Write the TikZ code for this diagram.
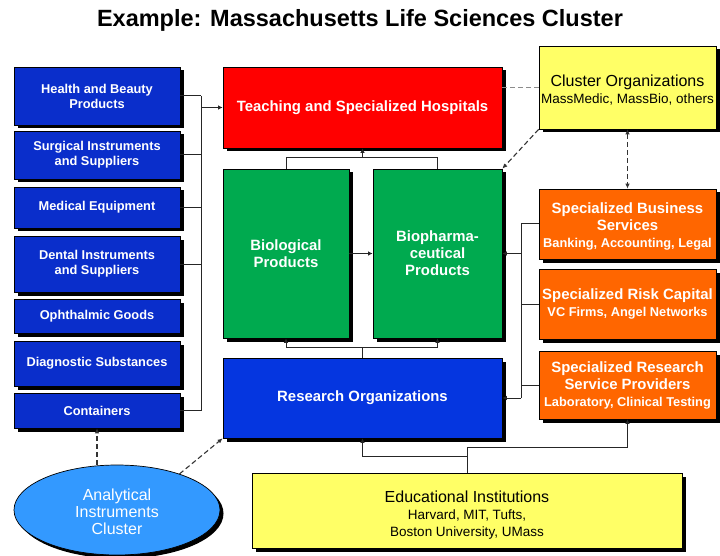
\documentclass[tikz,border=0pt]{standalone}
\usepackage{fontspec}
\setmainfont{Liberation Sans}
\usetikzlibrary{shadows,arrows.meta,shapes.geometric}
\definecolor{lblue}{HTML}{0A2ECB}
\definecolor{rblue}{HTML}{0536E0}
\definecolor{hred}{HTML}{FF0000}
\definecolor{pgreen}{HTML}{00AA4F}
\definecolor{sorange}{HTML}{FF6600}
\definecolor{cyellow}{HTML}{FFFF66}
\definecolor{eblue}{HTML}{3399FF}
\tikzset{
  box/.style={draw=black, line width=0.7pt, inner sep=2pt, align=center,
    drop shadow={shadow xshift=3.5pt, shadow yshift=-3.5pt, fill=black, opacity=1}},
  leftbox/.style={box, fill=lblue, text=white, font=\fontsize{12.8}{15}\selectfont\bfseries, minimum width=166pt},
  bigtxt/.style={font=\fontsize{14.9}{17}\selectfont\bfseries},
  orbox/.style={box, fill=sorange, text=white, font=\fontsize{12.8}{17}\selectfont\bfseries, minimum width=177pt},
  ylbox/.style={box, fill=cyellow, font=\fontsize{13.5}{17}\selectfont},
  conn/.style={draw=black!85, line width=1pt},
  tip/.style={-{Latex[length=4.5pt,width=4.5pt]}},
  dsh/.style={draw=black!80, line width=1.1pt, dash pattern=on 5pt off 3pt},
}
\newcommand{\bgfs}{\fontsize{14.9}{17}\selectfont}
\newcommand{\smfs}{\fontsize{12.8}{17}\selectfont}
\newcommand{\ylfs}{\fontsize{16}{17}\selectfont}
\newcommand{\ysfs}{\fontsize{13.5}{17}\selectfont}
\begin{document}
\begin{tikzpicture}[x=1pt,y=-1pt]
\useasboundingbox (0,0) rectangle (720,556);
\node[font=\fontsize{23.5}{26}\selectfont\bfseries] (title) at (360,20) {Example: Massachusetts Life Sciences Cluster};

% left boxes
\node[leftbox, minimum height=58pt] (hb) at (97,96) {Health and Beauty\\Products};
\node[leftbox, minimum height=48pt] (si) at (97,155) {Surgical Instruments\\and Suppliers};
\node[leftbox, minimum height=41pt] (me) at (97,207.5) {Medical Equipment};
\node[leftbox, minimum height=56pt] (di) at (97,264) {Dental Instruments\\and Suppliers};
\node[leftbox, minimum height=34pt] (og) at (97,316) {Ophthalmic Goods};
\node[leftbox, minimum height=45pt] (ds) at (97,363.5) {Diagnostic Substances};
\node[leftbox, minimum height=35pt] (ct) at (97,410.5) {Containers};

% center boxes
\node[box, fill=hred, text=white, bigtxt, minimum width=279pt, minimum height=81pt] (th) at (362.5,107.5) {Teaching and Specialized Hospitals};
\node[box, fill=pgreen, text=white, bigtxt, minimum width=126pt, minimum height=169pt] (bio) at (286,253.5) {Biological\\Products};
\node[box, fill=pgreen, text=white, bigtxt, minimum width=129pt, minimum height=169pt] (bph) at (437.5,253.5) {Biopharma-\\ceutical\\Products};
\node[box, fill=rblue, text=white, bigtxt, minimum width=279pt, minimum height=80pt] (ro) at (362.5,398) {Research Organizations};

% right boxes
\node[ylbox, minimum width=177pt, minimum height=83pt] (co) at (627.5,87.5) {\ylfs\rule{0pt}{17pt}Cluster Organizations\\\ysfs MassMedic, MassBio, others};
\node[orbox, minimum height=70pt] (sbs) at (627.5,224) {\bgfs\rule{0pt}{15pt}Specialized Business\\\bgfs Services\\\smfs Banking, Accounting, Legal};
\node[orbox, minimum height=70pt] (src) at (627.5,304) {\bgfs Specialized Risk Capital\\\smfs VC Firms, Angel Networks};
\node[orbox, minimum height=68pt] (srs) at (627.5,385) {\bgfs Specialized Research\\\bgfs Service Providers\\\smfs Laboratory, Clinical Testing};

% bottom
\node[ylbox, minimum width=430pt, minimum height=75pt] (edu) at (467,510.5) {\ylfs\rule{0pt}{21pt}Educational Institutions\\\ysfs Harvard, MIT, Tufts,\\\ysfs Boston University, UMass};
\node[box, ellipse, fill=eblue, text=white, inner sep=0pt, minimum width=206pt, minimum height=90pt, font=\fontsize{16}{17}\selectfont] (aic) at (117,510) {\rule{0pt}{15pt}Analytical\\Instruments\\Cluster};

% left bus
\coordinate (lb) at (201,0);
\foreach \n in {hb,si,me,di,ct} {\draw[conn] (\n.east) -- (\n.east -| lb);}
\draw[conn] (hb.east -| lb) -- (ct.east -| lb);
\draw[conn, tip] (th.west -| lb) -- (th.west);

% hospitals to green
\coordinate (tj) at (362.5,158);
\draw[conn] (bio.north) -- (bio.north |- tj) -- (bph.north |- tj) -- (bph.north);
\draw[conn, tip] (tj) -- (th.south);
\draw[conn, tip] (bio.east) -- (bph.west);

% green to research
\coordinate (bj) at (362.5,347);
\draw[conn] (bio.south |- bj) -- (bph.south |- bj);
\draw[conn, tip] (bio.south |- bj) -- (bio.south);
\draw[conn, tip] (bph.south |- bj) -- (bph.south);
\draw[conn] (bj) -- (ro.north);

% right bus
\coordinate (rb) at (521,0);
\foreach \n in {sbs,src,srs} {\draw[conn] (\n.west) -- (\n.west -| rb);}
\draw[conn] (sbs.west -| rb) -- (ro.east -| rb);
\draw[conn, tip] (bph.east -| rb) -- (bph.east);
\draw[conn, tip] (ro.east -| rb) -- (ro.east);

% to education
\coordinate (ej) at (467,447);
\coordinate (rj) at (362.5,456);
\draw[conn, {Latex[length=4.5pt,width=4.5pt]}-] (ro.south) -- (rj) -- (rj -| edu.north);
\draw[conn, {Latex[length=4.5pt,width=4.5pt]}-] (srs.south) -- (srs.south |- ej) -- (ej) -- (edu.north);

% dashed
\draw[dsh, draw=black!45] (th.east |- co.west) -- (co.west);
\draw[dsh, -{Latex[length=5pt,width=4.5pt]}] (co.south west) -- (bph.north east);
\draw[dsh, {Latex[length=5pt,width=4.5pt]}-{Latex[length=5pt,width=4.5pt]}] (co.south) -- (sbs.north);
\draw[dsh, -{Latex[length=5pt,width=4.5pt]}] (aic.north -| ct.south) -- (ct.south);
\draw[dsh, -{Latex[length=5pt,width=4.5pt]}] (aic.30) -- (ro.south west);
\end{tikzpicture}
\end{document}
